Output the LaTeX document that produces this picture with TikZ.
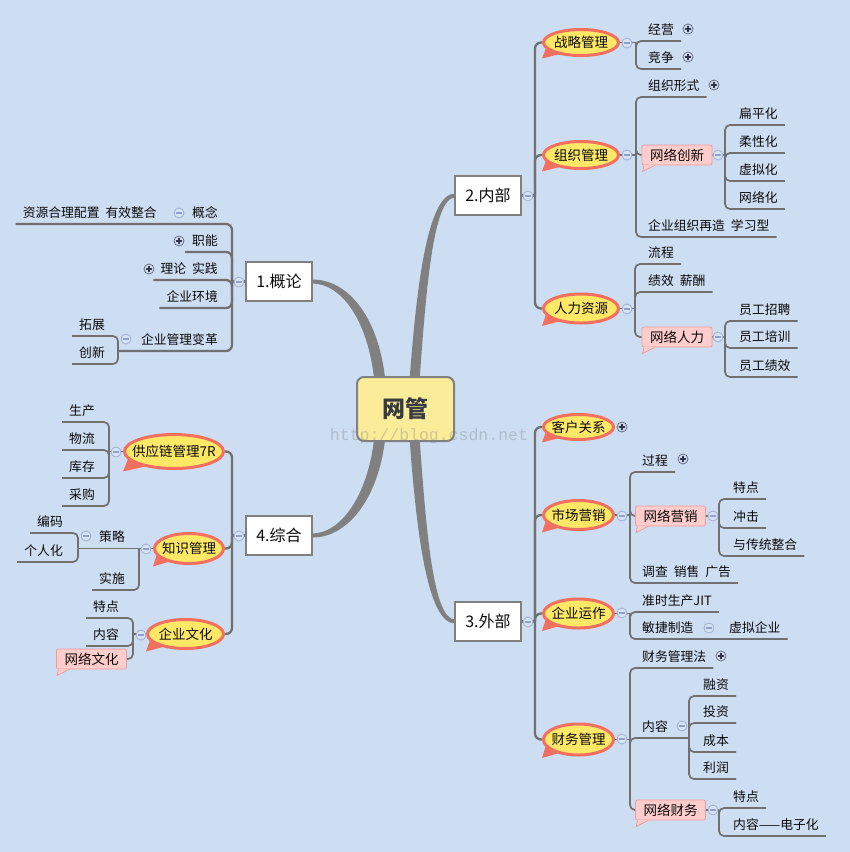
\documentclass[tikz,border=0pt]{standalone}
\usepackage{fontspec}
\setmainfont{Noto Sans CJK SC}
\newfontfamily\wmfont{Liberation Mono}
\usetikzlibrary{calc,shapes.geometric}
\pgfdeclarelayer{bgfill}
\pgfdeclarelayer{background}
\pgfsetlayers{bgfill,background,main}
\definecolor{bgc}{RGB}{205,221,242}
\definecolor{lnc}{RGB}{112,112,112}
\definecolor{curvec}{RGB}{128,128,128}
\definecolor{boxd}{RGB}{128,128,128}
\definecolor{txtc}{RGB}{10,10,10}
\definecolor{yel}{RGB}{255,232,102}
\definecolor{org}{RGB}{243,112,96}
\definecolor{pinkf}{RGB}{255,206,204}
\definecolor{pinkd}{RGB}{240,155,155}
\definecolor{rootf}{RGB}{251,236,153}
\definecolor{roott}{RGB}{55,60,65}
\definecolor{mkmf}{RGB}{214,226,246}
\definecolor{mkmd}{RGB}{160,176,210}
\definecolor{mkmc}{RGB}{145,162,200}
\definecolor{mkpf}{RGB}{210,220,238}
\definecolor{mkpd}{RGB}{100,110,130}
\definecolor{mkpc}{RGB}{45,55,75}
\newcommand{\wgap}{\hspace{6pt}}
\tikzset{
 txt/.style={inner sep=0, font=\fontsize{12.8}{15}\selectfont, text=txtc},
 cotxt/.style={inner sep=0, font=\fontsize{13.5}{16}\selectfont, text=txtc},
 ln/.style={draw=lnc, line width=1.7, rounded corners=5},
 lnm/.style={draw=lnc, line width=2.3, rounded corners=6},
 topbox/.style={rectangle, draw=boxd, line width=2.5, fill=white, minimum width=66, minimum height=39, inner sep=0, font=\fontsize{16}{18}\selectfont, text=txtc},
 rootbox/.style={rectangle, rounded corners=7, draw=boxd, line width=2, fill=rootf, minimum width=97, minimum height=64, inner sep=0, font=\fontsize{23}{26}\selectfont\bfseries, text=roott},
 pinkbox/.style={rectangle, rounded corners=2, draw=pinkd, line width=0.8, fill=pinkf, minimum width=70, minimum height=20, inner sep=0, font=\fontsize{13.5}{16}\selectfont, text=txtc},
 mkm/.style={circle, minimum size=10, inner sep=0, fill=mkmf, draw=mkmd, line width=0.8},
 mkp/.style={circle, minimum size=10, inner sep=0, fill=mkpf, draw=mkpd, line width=0.8},
}
% right-side underline topic: [style]{name}{x}{underline y}{text}{from}
\newcommand{\RT}[6][ln]{%
  \node[txt,anchor=base west] (#2) at (#3,#4-6.5) {#5};
  \begin{pgfonlayer}{background}\draw[#1] (#6) |- ($(#2.base east)+(7,6.5)$);\end{pgfonlayer}}
% left-side underline topic
\newcommand{\LT}[6][ln]{%
  \node[txt,anchor=base east] (#2) at (#3,#4-6.5) {#5};
  \begin{pgfonlayer}{background}\draw[#1] (#6) |- ($(#2.base west)+(-7,6.5)$);\end{pgfonlayer}}
% callout ellipse: {name}{cx}{cy}{a}{b}{text}
\newcommand{\CO}[6]{%
  \fill[org] (#2-0.9*#4,#3+0.4*#5) -- (#2-#4,#3+#5+1.5) -- (#2-0.55*#4,#3+0.8*#5) -- cycle;
  \draw[fill=yel, draw=org, line width=3] (#2,#3) ellipse [x radius={(#4-1.5)*1pt}, y radius={(#5-1.5)*1pt}];
  \node[cotxt] (#1) at (#2,#3) {#6};}
% pink callout box
\newcommand{\PB}[4]{%
  \node[pinkbox] (#1) at (#2,#3) {#4};
  \fill[pinkf] ($(#1.south west)+(2,-0.6)$) -- ($(#1.south west)+(1,6)$) -- ($(#1.south west)+(13,-0.6)$) -- cycle;
  \draw[pinkd, line width=0.8] ($(#1.south west)+(2.4,0)$) -- ($(#1.south west)+(1,6)$) -- ($(#1.south west)+(13,0)$);}
% markers
\newcommand{\MM}[3]{\node[mkm] (#1) at (#2,#3) {};
  \draw[mkmc, line width=1.1] ($(#1)+(-2.6,0)$) -- ($(#1)+(2.6,0)$);}
\newcommand{\MP}[3]{\node[mkp] (#1) at (#2,#3) {};
  \draw[mkpc, line width=1.1] ($(#1)+(-2.6,0)$) -- ($(#1)+(2.6,0)$) ($(#1)+(0,-2.6)$) -- ($(#1)+(0,2.6)$);}

\begin{document}
\begin{tikzpicture}[x=1pt,y=-1pt]
\begin{pgfonlayer}{bgfill}
\fill[bgc] (0,0) rectangle (850,852);
\end{pgfonlayer}
\useasboundingbox (0,0) rectangle (850,852);

% main tapered branches
\begin{pgfonlayer}{background}
\fill[curvec] (409,388) .. controls (416,290) and (427,193.5) .. (455,193.5) -- (455,197.5) .. controls (433,197.5) and (426,290) .. (419,388) -- cycle;
\fill[curvec] (312,279.5) .. controls (348,279) and (381,318) .. (386,388) -- (375,388) .. controls (370,322) and (342,283.5) .. (312,283.5) -- cycle;
\fill[curvec] (312,537.5) .. controls (348,538) and (381,497) .. (386,430) -- (375,430) .. controls (370,493) and (342,533.5) .. (312,533.5) -- cycle;
\fill[curvec] (409,430) .. controls (416,530) and (427,623.5) .. (455,623.5) -- (455,619.5) .. controls (433,619.5) and (426,530) .. (419,430) -- cycle;
\end{pgfonlayer}

\node[rootbox] (root) at (405.5,409) {网管};
\node[topbox] (b2) at (488,195.5) {2.内部};
\node[topbox] (b1) at (279,281.5) {1.概论};
\node[topbox] (b4) at (279,535.5) {4.综合};
\node[topbox] (b3) at (488,621.5) {3.外部};

% ===== 2. 内部 =====
\coordinate (j2) at (535,195.5);
\CO{zlgl}{581}{42.5}{39}{14.5}{战略管理}
\CO{zzgl}{581}{155}{39}{15}{组织管理}
\CO{rlzy}{581}{308.5}{39}{16}{人力资源}
\begin{pgfonlayer}{background}
\draw[lnm] (b2.center) -- (j2);
\draw[lnm] (j2) |- (zlgl);
\draw[lnm] (j2) |- (zzgl);
\draw[lnm] (j2) |- (rlzy);
\end{pgfonlayer}
\coordinate (jzl) at (636,42.5);
\coordinate (jzz) at (636,155);
\coordinate (jrl) at (635,308.5);
\begin{pgfonlayer}{background}
\draw[ln] (zlgl.center) -- (jzl);
\draw[ln] (zzgl.center) -- (jzz);
\draw[ln] (rlzy.center) -- (jrl);
\end{pgfonlayer}
\RT{jy}{648}{41}{经营}{jzl}
\RT{jz}{648}{69}{竞争}{jzl}
\RT{zzxs}{648}{97}{组织形式}{jzz}
\PB{wlcx}{677}{155}{网络创新}
\RT{zzzz}{648}{237}{企业组织再造\wgap 学习型}{jzz}
\coordinate (jcx) at (725,155);
\begin{pgfonlayer}{background}
\draw[ln] (jzz) |- (wlcx);
\draw[ln] (wlcx.center) -- (jcx);
\end{pgfonlayer}
\RT{bph}{739}{125}{扁平化}{jcx}
\RT{rxh}{739}{153}{柔性化}{jcx}
\RT{xnh}{739}{181}{虚拟化}{jcx}
\RT{wlh}{739}{209}{网络化}{jcx}
\RT{lc}{648}{264}{流程}{jrl}
\RT{jxxc}{648}{292}{绩效\wgap 薪酬}{jrl}
\PB{wlrl}{677}{337}{网络人力}
\coordinate (jwr) at (725,337);
\begin{pgfonlayer}{background}
\draw[ln] (jrl) |- (wlrl);
\draw[ln] (wlrl.center) -- (jwr);
\end{pgfonlayer}
\RT{ygzp}{739}{321}{员工招聘}{jwr}
\RT{ygpx}{739}{348}{员工培训}{jwr}
\RT{ygjx}{739}{377}{员工绩效}{jwr}

% ===== 1. 概论 =====
\coordinate (j1) at (232,281.5);
\node[txt,anchor=base east] (gn) at (218,217.5) {概念};
\node[txt,anchor=base east] (zyhl) at (157,217.5) {资源合理配置\wgap 有效整合};
\node[txt,anchor=base east] (glbg) at (218,344.5) {企业管理变革};
\coordinate (jbg) at (118,351);
\begin{pgfonlayer}{background}
\draw[lnm] (b1.center) -- (j1);
\draw[lnm] (j1) |- ($(zyhl.base west)+(-7,6.5)$);
\draw[lnm] (j1) |- (jbg);
\end{pgfonlayer}
\LT[lnm]{zn}{218}{252}{职能}{j1}
\LT[lnm]{llsj}{218}{280}{理论\wgap 实践}{j1}
\LT[lnm]{qyhj}{218}{308}{企业环境}{j1}
\LT{tz}{105}{336}{拓展}{jbg}
\LT{cxin}{105}{364}{创新}{jbg}

% ===== 4. 综合 =====
\coordinate (j4) at (232,535.5);
\CO{gyl}{174}{451.5}{51}{18.5}{供应链管理7R}
\CO{zsgl}{189}{548.5}{36}{16.5}{知识管理}
\CO{qywh}{185.5}{634}{39.5}{16}{企业文化}
\coordinate (jgy) at (109,451.5);
\coordinate (jzs) at (139,548.5);
\coordinate (jcl) at (78,548.5);
\coordinate (jwh) at (133,634);
\node[txt,anchor=base east] (cl) at (125,541.5) {策略};
\PB{wlwh}{91.5}{659}{网络文化}
\begin{pgfonlayer}{background}
\draw[lnm] (b4.center) -- (j4);
\draw[lnm] (j4) |- (gyl);
\draw[lnm] (j4) |- (zsgl);
\draw[lnm] (j4) |- (qywh);
\draw[ln] (gyl.center) -- (jgy);
\draw[ln] (zsgl.center) -- (jzs);
\draw[ln] (jzs) -- (jcl);
\draw[ln] (qywh.center) -- (jwh);
\draw[ln] (jwh) |- (wlwh);
\end{pgfonlayer}
\LT{sc}{95}{422}{生产}{jgy}
\LT{wl}{95}{450}{物流}{jgy}
\LT{kc}{95}{478}{库存}{jgy}
\LT{cg}{95}{506}{采购}{jgy}
\LT{bm}{63}{533}{编码}{jcl}
\LT{grh}{63}{562}{个人化}{jcl}
\LT{ss}{125}{590}{实施}{jzs}
\LT{tda}{119}{618}{特点}{jwh}
\LT{nra}{119}{646}{内容}{jwh}

% ===== 3. 外部 =====
\coordinate (j3) at (535,621.5);
\CO{khgx}{578.5}{427}{36.5}{14}{客户关系}
\CO{scyx}{578.5}{515}{36.5}{16}{市场营销}
\CO{qyyz}{578.5}{613.5}{36.5}{16}{企业运作}
\CO{cwgl}{578.5}{739.5}{36.5}{17}{财务管理}
\coordinate (jsc) at (630,515);
\coordinate (jyz) at (630,613.5);
\coordinate (jcw) at (630,739.5);
\PB{wlyx}{670.5}{516}{网络营销}
\coordinate (jyx) at (719,516);
\node[txt,anchor=base west] (mjzz) at (642,632.5) {敏捷制造};
\node[txt,anchor=base west] (xnqy) at (729,632.5) {虚拟企业};
\node[txt,anchor=base west] (nrb) at (642,731.5) {内容};
\coordinate (jnr) at (689,738);
\PB{wlcw}{670.5}{810}{网络财务}
\coordinate (jwc) at (719,810);
\begin{pgfonlayer}{background}
\draw[lnm] (b3.center) -- (j3);
\draw[lnm] (j3) |- (khgx);
\draw[lnm] (j3) |- (scyx);
\draw[lnm] (j3) |- (qyyz);
\draw[lnm] (j3) |- (cwgl);
\draw[ln] (scyx.center) -- (jsc);
\draw[ln] (qyyz.center) -- (jyz);
\draw[ln] (cwgl.center) -- (jcw);
\draw[ln] (jsc) |- (wlyx);
\draw[ln] (wlyx.center) -- (jyx);
\draw[ln] (jyz) |- ($(xnqy.base east)+(7,6.5)$);
\draw[ln] (jcw) |- (jnr);
\draw[ln] (jcw) |- (wlcw);
\draw[ln] (wlcw.center) -- (jwc);
\end{pgfonlayer}
\RT{gc}{642}{472}{过程}{jsc}
\RT{dc}{642}{583}{调查\wgap 销售\wgap 广告}{jsc}
\RT{tdb}{733}{499}{特点}{jyx}
\RT{cj}{733}{528}{冲击}{jyx}
\RT{ctzh}{733}{556}{与传统整合}{jyx}
\RT{jit}{642}{612}{准时生产JIT}{jyz}
\RT{cwf}{642}{668}{财务管理法}{jcw}
\RT{rz}{703}{696}{融资}{jnr}
\RT{tzi}{703}{723}{投资}{jnr}
\RT{cb}{703}{752}{成本}{jnr}
\RT{lr}{703}{779}{利润}{jnr}
\RT{tdc}{733}{808}{特点}{jwc}
\RT{dzh}{733}{836}{内容——电子化}{jwc}

% ===== markers =====
\MM{m1}{528}{196}
\MM{m2}{627}{43}
\MM{m3}{627}{155}
\MM{m4}{718}{155}
\MM{m5}{627}{309}
\MM{m6}{718}{337}
\MM{m7}{239}{282}
\MM{m8}{179}{213}
\MM{m9}{126}{339}
\MM{m10}{239}{536}
\MM{m11}{116}{452}
\MM{m12}{146}{549}
\MM{m13}{86}{536}
\MM{m14}{141}{635}
\MM{m15}{528}{622}
\MM{m16}{622}{516}
\MM{m17}{713}{516}
\MM{m18}{622}{613}
\MM{m19}{709}{628}
\MM{m20}{622}{739}
\MM{m21}{682}{726}
\MM{m22}{713}{810}
\MP{p1}{688}{29}
\MP{p2}{688}{57}
\MP{p3}{714}{85}
\MP{p4}{179}{241}
\MP{p5}{149}{269}
\MP{p6}{622}{427}
\MP{p7}{683}{459}
\MP{p8}{721}{656}

% watermark
\node[inner sep=0, font=\wmfont\fontsize{16.5}{18}\selectfont, text=gray, opacity=0.35] (wm) at (429,436) {http://blog.csdn.net};
\end{tikzpicture}
\end{document}
